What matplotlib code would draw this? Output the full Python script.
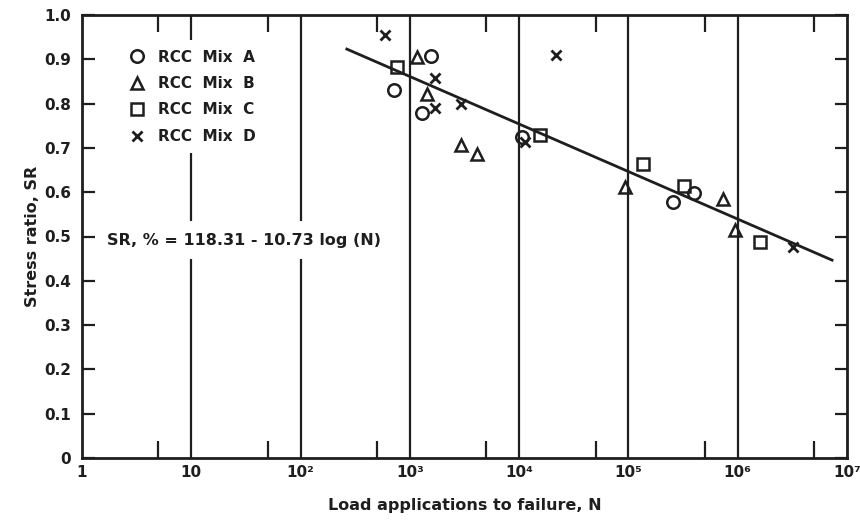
import numpy as np
import matplotlib
matplotlib.use("Agg")
import matplotlib.pyplot as plt
from matplotlib.lines import Line2D
from matplotlib.ticker import FixedLocator, NullFormatter

# ---- data ----
mixA_N = [710, 1560, 1290, 10600, 255000, 398000]
mixA_SR = [0.831, 0.907, 0.779, 0.725, 0.578, 0.598]

mixB_N = [1160, 1440, 2950, 4100, 93000, 730000, 940000]
mixB_SR = [0.905, 0.822, 0.707, 0.686, 0.612, 0.585, 0.515]

mixC_N = [760, 15500, 136000, 320000, 1600000]
mixC_SR = [0.883, 0.729, 0.664, 0.614, 0.488]

mixD_N = [592, 21700, 1700, 1700, 2950, 11300, 3200000]
mixD_SR = [0.955, 0.910, 0.858, 0.790, 0.800, 0.713, 0.476]

fit_intercept = 1.1831
fit_slope = 0.1073
fit_range = [265, 7.3e6]

x_ticks = [1, 10, 1e2, 1e3, 1e4, 1e5, 1e6, 1e7]
x_ticklabels = ["1", "10", "10²", "10³", "10⁴", "10⁵", "10⁶", "10⁷"]
y_ticks = [0, 0.1, 0.2, 0.3, 0.4, 0.5, 0.6, 0.7, 0.8, 0.9, 1.0]
y_ticklabels = ["0", "0.1", "0.2", "0.3", "0.4", "0.5", "0.6", "0.7", "0.8", "0.9", "1.0"]
minor_ticks = [5, 50, 500, 5e3, 5e4, 5e5, 5e6]

legend_labels = ["RCC  Mix  A", "RCC  Mix  B", "RCC  Mix  C", "RCC  Mix  D"]
equation_text = "SR, % = 118.31 - 10.73 log (N)"

ink = "#1e1e1e"
plt.rcParams['font.family'] = ['DejaVu Sans']

fig = plt.figure(figsize=(8.6, 5.24), dpi=100)
ax = fig.add_axes([82/860, 66/524, 765/860, 443/524])
ax.set_xscale('log')
ax.set_xlim(1, 1e7)
ax.set_ylim(0, 1.0)

# vertical grid lines at decades
for xv in x_ticks[1:-1]:
    ax.axvline(xv, color=ink, lw=1.6, zorder=1)

# regression line
xf = np.logspace(np.log10(fit_range[0]), np.log10(fit_range[1]), 50)
ax.plot(xf, fit_intercept - fit_slope*np.log10(xf), color=ink, lw=2.0, zorder=2)

mk = dict(linestyle='none', markerfacecolor='none', markeredgecolor=ink,
          markeredgewidth=1.8, zorder=3)
ax.plot(mixA_N, mixA_SR, marker='o', markersize=9, **mk)
ax.plot(mixB_N, mixB_SR, marker='^', markersize=9, **mk)
ax.plot(mixC_N, mixC_SR, marker='s', markersize=9, **mk)
ax.plot(mixD_N, mixD_SR, marker='x', markersize=7, linestyle='none',
        color=ink, markeredgewidth=2.0, zorder=3)

# ticks
ax.xaxis.set_major_locator(FixedLocator(x_ticks))
ax.set_xticklabels(x_ticklabels)
ax.xaxis.set_minor_locator(FixedLocator(minor_ticks))
ax.xaxis.set_minor_formatter(NullFormatter())
ax.set_yticks(y_ticks)
ax.set_yticklabels(y_ticklabels)
ax.tick_params(axis='x', which='major', direction='in', length=0, pad=5,
               labelsize=11, labelcolor=ink)
ax.tick_params(axis='x', which='minor', direction='in', length=12, width=1.6,
               top=True, bottom=True, color=ink)
ax.tick_params(axis='y', which='major', direction='in', length=9, width=1.6,
               left=True, right=True, pad=8, labelsize=11, labelcolor=ink, color=ink)
for lab in ax.get_xticklabels() + ax.get_yticklabels():
    lab.set_fontweight('bold')

for sp in ax.spines.values():
    sp.set_linewidth(2.0)
    sp.set_color(ink)

ax.set_xlabel("Load applications to failure, N", fontsize=11.5, fontweight='bold',
              color=ink, labelpad=13)
ax.set_ylabel("Stress ratio, SR", fontsize=11.5, fontweight='bold', color=ink, labelpad=3)

handles = [
    Line2D([], [], marker='o', markersize=9, **mk),
    Line2D([], [], marker='^', markersize=9, **mk),
    Line2D([], [], marker='s', markersize=9, **mk),
    Line2D([], [], marker='x', markersize=7, linestyle='none', color=ink, markeredgewidth=2.0),
]
leg = ax.legend(handles, legend_labels, loc='upper left', bbox_to_anchor=(0.04, 0.96),
                frameon=True, facecolor='white', edgecolor='none', framealpha=1,
                labelspacing=0.75, handlelength=1.0, handletextpad=0.9,
                borderpad=0.6, prop={'weight': 'bold', 'size': 11})
leg.set_zorder(5)
for t in leg.get_texts():
    t.set_color(ink)

ax.text(0.033, 0.492, equation_text, transform=ax.transAxes, fontsize=11.5,
        fontweight='bold', color=ink, va='center', ha='left', zorder=5,
        bbox=dict(facecolor='white', edgecolor='none', pad=8))

fig.savefig("out.png", dpi=100)
